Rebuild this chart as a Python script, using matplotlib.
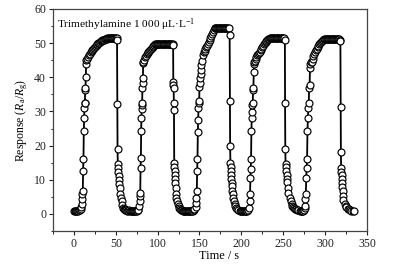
import matplotlib
matplotlib.use("Agg")
import matplotlib.pyplot as plt
from matplotlib.ticker import MultipleLocator

plt.rcParams['font.family'] = ['Liberation Serif', 'DejaVu Serif']
plt.rcParams['mathtext.fontset'] = 'custom'
plt.rcParams['mathtext.rm'] = 'Liberation Serif'
plt.rcParams['mathtext.it'] = 'Liberation Serif:italic'

# ---- data ----
t_c1 = [0, 1, 2, 3, 4, 5, 6, 7, 8,
        9.0, 9.4, 9.8, 10.2, 10.6, 11.0, 11.4, 11.8, 12.2, 12.5, 12.8, 13.1, 13.4, 13.8, 14.2, 14.6, 15.0,
        16, 17, 18, 19, 20, 21, 22, 23, 24, 25, 26, 27, 28, 29, 30, 31, 32, 33, 34, 35, 36, 37, 38, 39, 40,
        41, 42, 43, 44, 45, 46, 47, 48, 49, 50, 51,
        51.5, 51.8, 52.1, 52.4, 52.8, 53.2, 53.6, 54.0, 54.4, 54.8, 55.2, 56.0, 57.0, 58.0, 58.5, 59.5, 60.5, 61.5, 62.5, 63.5,
        65, 66, 67, 68, 69, 70, 71, 72, 73, 74, 75, 76, 77]
r_c1 = [1.0, 1.0, 1.0, 0.9, 1.0, 1.0, 1.1, 1.2, 1.4,
        2.0, 2.9, 4.4, 5.9, 6.8, 12.6, 16.2, 24.4, 28.2, 30.9, 32.4, 32.6, 36.2, 36.8, 40.0, 44.0, 45.0,
        45.4, 45.9, 46.4, 46.8, 47.3, 47.7, 48.0, 48.4, 48.7, 49.0, 49.2, 49.5, 49.7, 49.9, 50.1, 50.3, 50.5,
        50.7, 50.8, 50.9, 51.0, 51.1, 51.2, 51.3, 51.4,
        51.4, 51.4, 51.4, 51.4, 51.4, 51.4, 51.4, 51.4, 51.4, 51.4, 51.4,
        51.0, 32.1, 19.0, 14.7, 13.4, 12.2, 11.0, 9.9, 8.8, 7.6, 5.9, 4.8, 3.8, 2.6, 1.8, 1.5, 1.3, 1.2, 1.1, 1.0,
        1.0, 1.1, 1.0, 1.0, 1.0, 0.9, 1.0, 1.0, 1.0, 1.0, 1.0, 1.1, 1.2]

t_c2 = [78.0, 78.4, 78.8, 79.2, 79.6, 80.0, 80.3, 80.6, 80.9, 81.2, 81.5, 81.8, 82.1, 82.4, 82.7, 83.0,
        84, 85, 86, 87, 88, 89, 90, 91, 92, 93, 94, 95, 96, 97,
        98, 99, 100, 101, 102, 103, 104, 105, 106, 107, 108, 109, 110, 111, 112, 113, 114, 115, 116, 117, 118,
        118.5, 118.7, 118.9, 119.1, 119.3, 119.5, 119.8, 120.1, 120.4, 120.7, 121.0, 121.3, 121.6, 122.0, 122.5,
        123.0, 124.0, 125.0, 126.0, 127.0, 128.0, 129.0, 130.0,
        131, 132, 133, 134, 135, 136, 137, 138, 139, 140, 141, 142, 143, 144]
r_c2 = [2.4, 3.8, 5.3, 6.2, 13.5, 16.5, 24.4, 28.0, 30.6, 31.8, 32.6, 37.0, 38.2, 39.7, 44.1, 44.4,
        45.2, 45.8, 46.3, 46.7, 47.1, 47.5, 47.8, 48.1, 48.4, 48.7, 49.0, 49.3, 49.5, 49.7,
        49.7, 49.7, 49.7, 49.7, 49.7, 49.7, 49.7, 49.7, 49.7, 49.7, 49.7, 49.7, 49.7, 49.7, 49.7, 49.7, 49.7,
        49.7, 49.7, 49.7, 49.7,
        49.4, 38.5, 37.6, 36.8, 32.6, 30.3, 15.0, 13.8, 12.6, 11.4, 10.2, 9.0, 7.6, 5.9, 4.6,
        3.8, 3.0, 2.2, 1.7, 1.4, 1.2, 1.1, 1.0,
        1.0, 1.0, 0.9, 1.0, 1.0, 1.0, 1.0, 0.9, 1.0, 1.0, 1.0, 1.0, 1.1, 1.3]

t_c3 = [145.5, 146.0, 146.4, 146.8, 147.2, 147.6, 148.0, 148.4, 148.8, 149.2, 149.6, 150.0, 150.4, 150.8, 151.2, 151.6,
        152, 153, 154, 155, 156, 157, 158, 159, 160, 161, 162, 163, 164, 165, 166, 167, 168,
        169, 170, 171, 172, 173, 174, 175, 176, 177, 178, 179, 180, 181, 182, 183, 184, 185,
        186.0, 186.3, 186.6, 186.9, 187.2, 187.5, 187.8, 188.1, 188.4, 188.7, 189.0, 189.5, 190.0, 191.0, 192.0,
        193.0, 194.0, 195.0, 196.0, 198.0,
        199, 200, 201, 202, 203, 204, 205, 206, 207, 208]
r_c3 = [2.0, 3.3, 4.8, 6.8, 12.6, 16.2, 23.9, 27.6, 30.9, 32.4, 33.2, 37.2, 38.2, 39.7, 41.0, 42.0,
        43.6, 44.8, 46.5, 47.3, 47.8, 48.3, 48.8, 49.3, 49.8, 50.3, 50.9, 51.5, 52.1, 52.7, 53.3, 53.9, 54.3,
        54.3, 54.3, 54.3, 54.3, 54.3, 54.3, 54.3, 54.3, 54.3, 54.3, 54.3, 54.3, 54.3, 54.3, 54.3, 54.3, 54.3,
        52.4, 33.2, 20.0, 15.0, 13.8, 12.6, 11.4, 10.2, 9.0, 8.2, 6.8, 5.8, 4.7, 3.8, 3.0,
        2.3, 1.8, 1.4, 1.2, 1.0,
        1.0, 0.9, 0.9, 1.0, 1.0, 0.9, 1.0, 1.0, 1.0, 1.2]

t_c4 = [209.5, 210.0, 210.4, 210.8, 211.2, 211.6, 212.0, 212.4, 212.8, 213.2, 213.6, 214.0, 214.4, 214.8, 215.2, 215.6,
        216, 217, 218, 219, 220, 221, 222, 223, 224, 225, 226, 227, 228, 229, 230, 231, 232, 233, 234,
        235, 236, 237, 238, 239, 240, 241, 242, 243, 244, 245, 246, 247, 248, 249, 250, 251,
        252.0, 252.2, 252.5, 252.8, 253.2, 253.6, 254.0, 254.4, 254.8, 255.2, 255.7, 257.7, 259.0, 260.0, 261.0,
        262.0, 263.0, 264.0, 265.0, 266.0, 268.0, 270.0,
        271, 272, 273, 274, 275]
r_c4 = [1.8, 3.8, 5.9, 10.6, 13.2, 16.2, 24.4, 28.2, 29.7, 32.0, 32.6, 36.2, 37.0, 41.5, 44.0, 44.4,
        44.9, 45.5, 46.0, 46.5, 46.9, 47.2, 47.5, 47.9, 48.4, 48.8, 49.2, 49.6, 50.0, 50.3, 50.6, 50.9, 51.1,
        51.3, 51.4,
        51.4, 51.4, 51.4, 51.4, 51.4, 51.4, 51.4, 51.4, 51.4, 51.4, 51.4, 51.4, 51.4, 51.4, 51.4, 51.4, 51.4,
        50.9, 32.4, 19.1, 14.7, 13.6, 12.5, 11.4, 10.3, 9.2, 7.6, 6.2, 4.8, 3.8, 3.0, 2.4,
        2.0, 1.7, 1.5, 1.3, 1.2, 1.1, 1.0,
        1.0, 1.0, 1.0, 1.0, 1.1]

t_c5 = [275.5, 276.0, 276.5, 277.0, 277.5, 278.0, 278.5, 279.0, 279.5, 280.0, 280.5, 281.0, 281.5, 282.0, 282.5, 283.0,
        284, 285, 286, 287, 288, 289, 290, 291, 292, 293, 294, 295, 296, 297, 298, 299, 300,
        301, 302, 303, 304, 305, 306, 307, 308, 309, 310, 311, 312, 313, 314, 315, 316, 317,
        318.0, 318.3, 318.6, 318.9, 319.2, 319.5, 319.8, 320.1, 320.4, 320.7, 321.0, 321.4, 322.0, 323.4, 324.5,
        325.5, 327.0, 328.5, 330.0, 331.5, 333.0, 334.0]
r_c5 = [1.6, 2.4, 4.4, 5.9, 10.6, 13.5, 16.2, 24.4, 28.2, 30.9, 32.4, 36.8, 37.6, 42.6, 44.0, 44.4,
        44.6, 45.4, 46.1, 46.8, 47.4, 47.9, 48.4, 48.8, 49.2, 49.6, 50.0, 50.3, 50.6, 50.8, 51.0, 51.1, 51.2,
        51.2, 51.2, 51.2, 51.2, 51.2, 51.2, 51.2, 51.2, 51.2, 51.2, 51.2, 51.2, 51.2, 51.2, 51.2, 51.2, 51.2,
        50.8, 50.5, 31.2, 18.0, 13.5, 12.4, 11.3, 10.2, 9.1, 8.0, 6.8, 5.3, 4.2, 2.9, 2.4,
        2.0, 1.5, 1.3, 1.1, 1.0, 0.9, 0.9]

x_ticks = [0, 50, 100, 150, 200, 250, 300, 350]
y_ticks = [0, 10, 20, 30, 40, 50, 60]
gas_label = 'Trimethylamine 1 000 μL·L$^{-1}$'

time_s = t_c1 + t_c2 + t_c3 + t_c4 + t_c5
response = r_c1 + r_c2 + r_c3 + r_c4 + r_c5

fig = plt.figure(figsize=(4.03, 2.64), dpi=100)
ax = fig.add_axes([0.1315, 0.125, 0.779, 0.841])

ax.plot(time_s, response, color='black', lw=1.3, marker='o', ms=5.0,
        mfc='white', mec='black', mew=0.85)

ax.set_xlim(-25, 350)
ax.set_ylim(-5, 60)
ax.set_xticks(x_ticks)
ax.set_yticks(y_ticks)
ax.xaxis.set_minor_locator(MultipleLocator(25))
ax.yaxis.set_minor_locator(MultipleLocator(5))
ax.tick_params(which='major', direction='out', length=3, width=0.8, labelsize=8.5, pad=2, colors='#222222')
ax.tick_params(which='minor', direction='out', length=1.8, width=0.7, colors='#222222')
for s in ax.spines.values():
    s.set_color('#444444')
    s.set_linewidth(0.9)

ax.set_xlabel('Time / s', fontsize=8.8, labelpad=1)
ax.xaxis.set_label_coords(0.53, -0.085)
ax.set_ylabel(r'Response ($R_{\rm a}/R_{\rm g}$)', fontsize=8.5, labelpad=3)
ax.text(0.013, 0.93, gas_label, transform=ax.transAxes, fontsize=8.2,
        ha='left', va='center')

fig.savefig('out.png', dpi=100)
